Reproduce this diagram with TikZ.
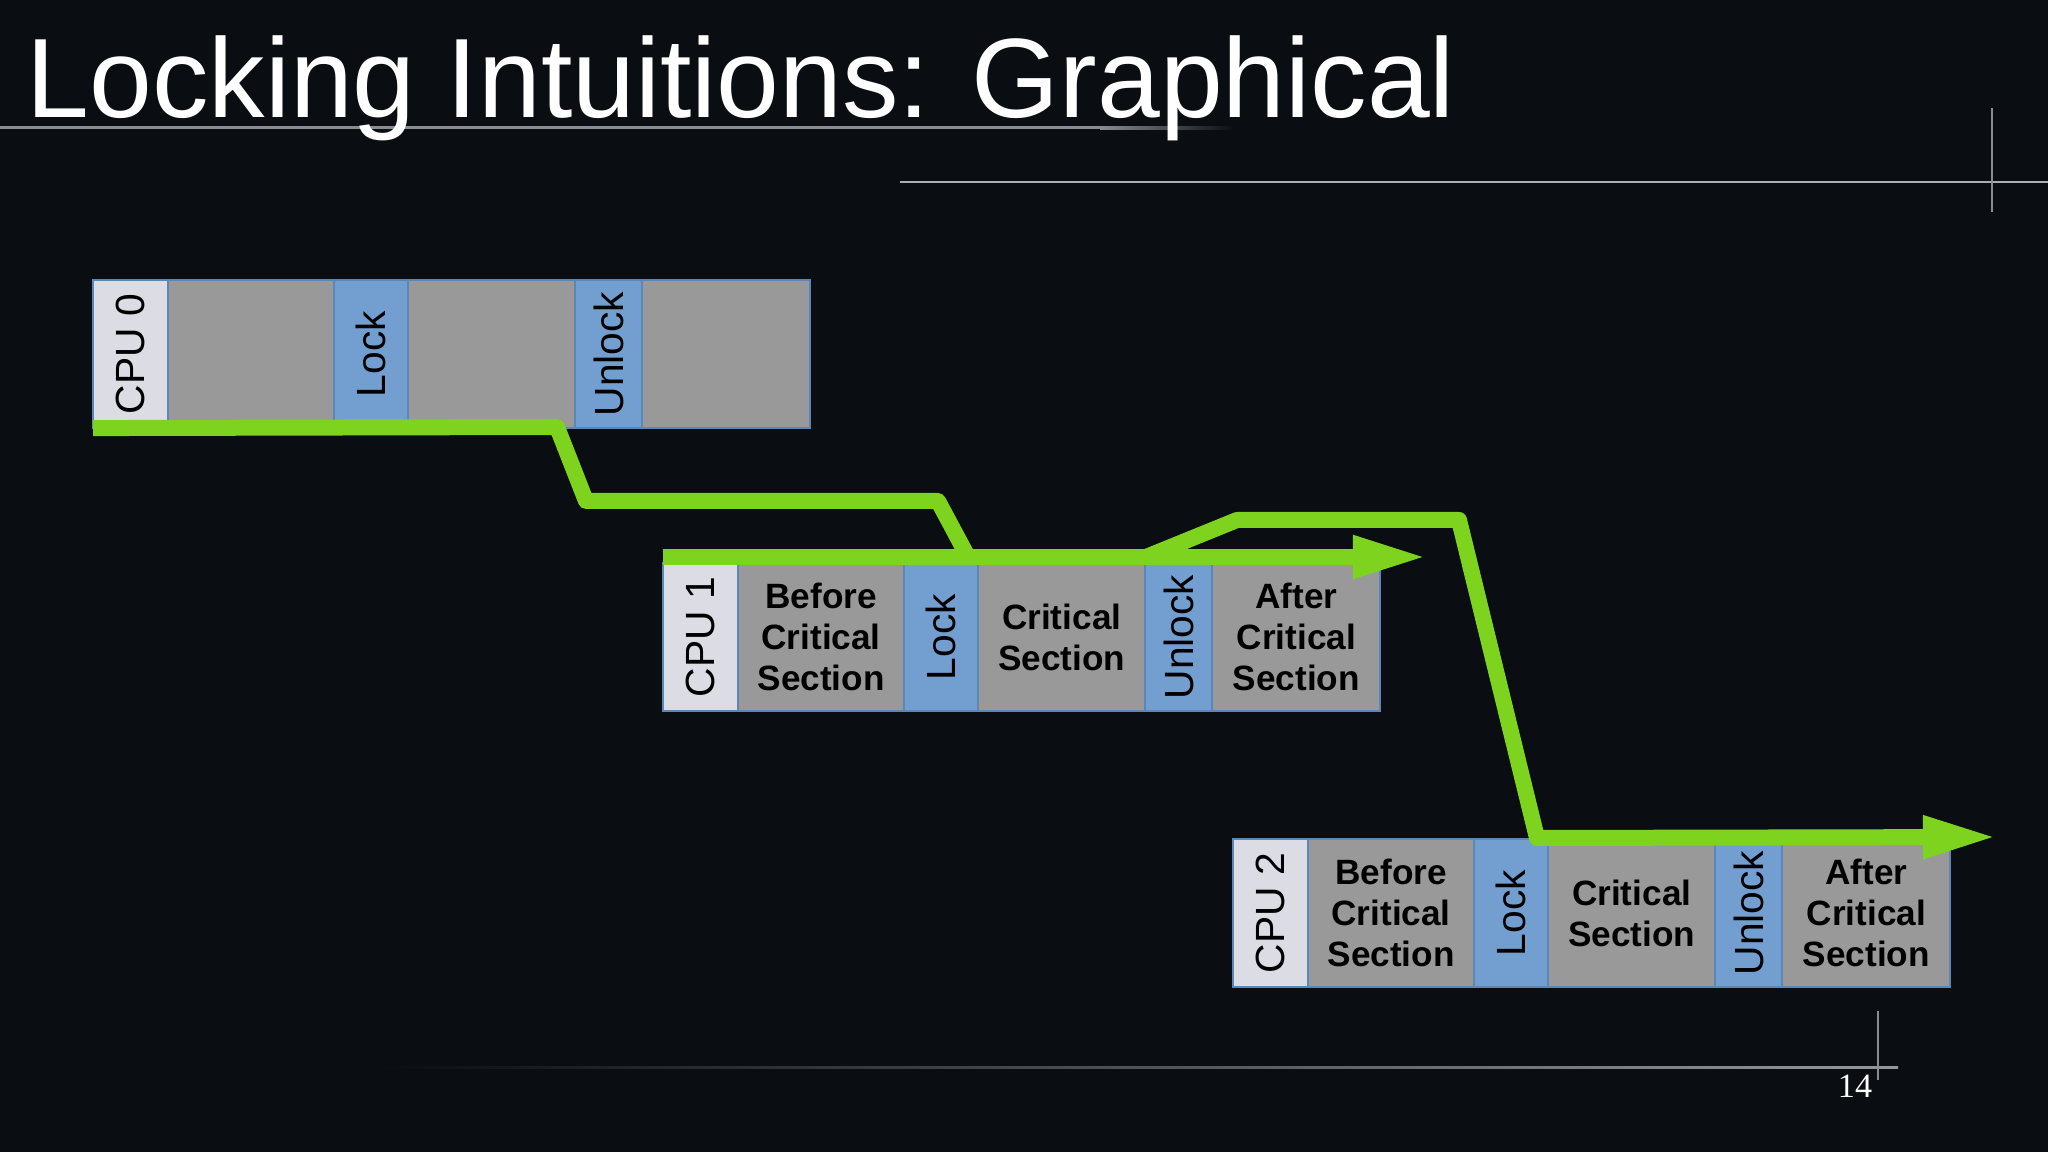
\documentclass[tikz,border=0pt]{standalone}
\usepackage{fontspec}
\setmainfont{Liberation Sans}
\newfontfamily\pagefont{Liberation Serif}
\usetikzlibrary{positioning,arrows.meta}

\definecolor{bgdark}{HTML}{0A0D11}
\definecolor{cellgrey}{HTML}{999999}
\definecolor{lockblue}{HTML}{739FD0}
\definecolor{cpuwhite}{HTML}{DCDCE4}
\definecolor{celledge}{HTML}{5A86B8}
\definecolor{pathgreen}{HTML}{7ED31E}
\definecolor{rulegrey}{HTML}{8A8C90}

\tikzset{
  cell/.style={draw=celledge, line width=0.6pt, minimum height=1.48cm,
    inner sep=0pt, outer sep=0pt, text=black, align=center},
  cpucell/.style={cell, fill=cpuwhite, minimum width=0.75cm,
    font=\fontsize{11.6}{13}\selectfont},
  workcell/.style={cell, fill=cellgrey, font=\fontsize{10}{11.7}\selectfont\bfseries},
  lockcell/.style={cell, fill=lockblue, font=\fontsize{11.6}{13}\selectfont},
  flow/.style={draw=pathgreen, line width=4.55pt, line join=round},
  flowarrow/.style={flow, -{Triangle[length=7.5mm, width=3.9mm]}},
}

\begin{document}
\begin{tikzpicture}[x=0.01cm, y=-0.01cm]
  % Page and slide decoration
  \useasboundingbox (0,0) rectangle (2048,1152);
  \fill[bgdark] (0,0) rectangle (2048,1152);
  \fill[rulegrey] (0,126.5) rectangle (1100,129.5);
  \shade[left color=rulegrey, right color=bgdark] (1100,126.5) rectangle (1234,129.5);
  \draw[rulegrey!70, line width=0.6pt] (900,182) -- (2048,182);
  \draw[rulegrey, line width=0.8pt] (1992,108) -- (1992,212);
  \shade[left color=bgdark, right color=rulegrey!90] (380,1066) rectangle (1898,1068);
  \draw[rulegrey, line width=0.8pt] (1878,1011) -- (1878,1080);

  \node[anchor=base west, inner sep=0pt, text=white, font=\fontsize{32.1}{38}\selectfont]
    (title) at (26,118) {Locking Intuitions: Graphical};
  \node[anchor=base, inner sep=0pt, text=white, font=\pagefont\fontsize{9.7}{11}\selectfont]
    (pagenum) at (1855,1097) {14};

  % One row of cells per CPU
  \foreach \n/\x/\y/\before/\crit/\after in {
      0/93/280/{}/{}/{},
      1/663/563/{Before\\Critical\\Section}/{Critical\\Section}/{After\\Critical\\Section},
      2/1233/839/{Before\\Critical\\Section}/{Critical\\Section}/{After\\Critical\\Section}} {
    \node[cpucell, anchor=north west] (cpu\n) at (\x,\y) {\rotatebox{90}{CPU \n}};
    \node[workcell, minimum width=1.66cm, right=0pt of cpu\n] (before\n) {\before};
    \node[lockcell, minimum width=0.74cm, right=0pt of before\n] (lock\n) {\rotatebox{90}{Lock}};
    \node[workcell, minimum width=1.67cm, right=0pt of lock\n] (crit\n) {\crit};
    \node[lockcell, minimum width=0.67cm, right=0pt of crit\n] (unlock\n) {\rotatebox{90}{Unlock}};
    \node[workcell, minimum width=1.68cm, right=0pt of unlock\n] (after\n) {\after};
  }

  % Bends of the lock hand-over path
  \coordinate (a0) at (557,427);
  \coordinate (a1) at (586,501);
  \coordinate (a2) at (938,501);
  \coordinate (a3) at (968,557);
  \coordinate (s1) at (663,557);
  \coordinate (t1) at (1428,557);
  \coordinate (b0) at (1146,557);
  \coordinate (b1) at (1237,520);
  \coordinate (b2) at (1459,520);
  \coordinate (b3) at (1537,838);
  \coordinate (t2) at (1998,837);

  \draw[flow] (cpu0.south west) -- (a0) -- (a1) -- (a2) -- (a3);
  \draw[flowarrow] (s1) -- (t1);
  \draw[flowarrow] (b0) -- (b1) -- (b2) -- (b3) -- (t2);
\end{tikzpicture}
\end{document}
